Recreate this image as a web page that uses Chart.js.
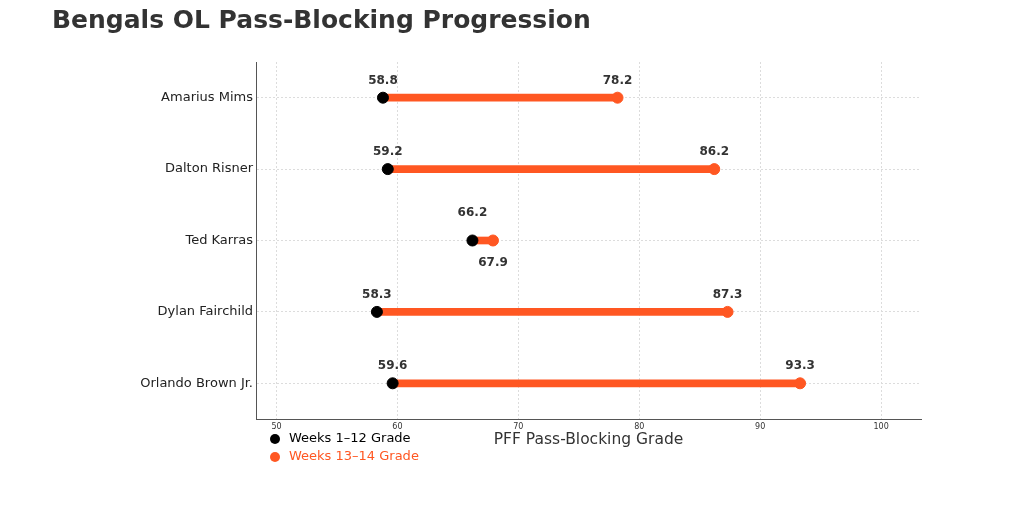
<!DOCTYPE html>
<html>
<head>
<meta charset="utf-8">
<script src="https://cdn.jsdelivr.net/npm/chart.js@4/dist/chart.umd.min.js"></script>
<style>
  html, body { margin: 0; padding: 0; background: #fff; }
  #wrap { width: 1024px; height: 512px; }
</style>
</head>
<body>
<div id="wrap"><canvas id="olChart" width="1024" height="512"></canvas></div>
<script>
// Data
const players = ['Amarius Mims', 'Dalton Risner', 'Ted Karras', 'Dylan Fairchild', 'Orlando Brown Jr.'];
const weeks1to12 = [58.8, 59.2, 66.2, 58.3, 59.6];
const weeks13to14 = [78.2, 86.2, 67.9, 87.3, 93.3];
const xTicks = [50, 60, 70, 80, 90, 100];

const ORANGE = '#FF5722';
const FONT = "'DejaVu Sans', sans-serif";

// Draw title, value labels and the legend by hand
const textPlugin = {
    id: 'textPlugin',
    afterDraw(chart) {
        const ctx = chart.ctx;
        const x = chart.scales.x;
        const y = chart.scales.y;
        ctx.save();

        // title
        ctx.fillStyle = '#333';
        ctx.font = 'bold 25px ' + FONT;
        ctx.textAlign = 'left';
        ctx.textBaseline = 'middle';
        ctx.fillText('Bengals OL Pass-Blocking Progression', 52, 21);

        // value labels
        ctx.font = 'bold 12px ' + FONT;
        ctx.textAlign = 'center';
        players.forEach((p, i) => {
            const py = y.getPixelForValue(i);
            const close = Math.abs(weeks13to14[i] - weeks1to12[i]) < 5;
            ctx.fillText(weeks1to12[i].toFixed(1), x.getPixelForValue(weeks1to12[i]), py - (close ? 28 : 17));
            ctx.fillText(weeks13to14[i].toFixed(1), x.getPixelForValue(weeks13to14[i]), py + (close ? 22 : -17));
        });

        // legend
        ctx.font = '13px ' + FONT;
        ctx.textAlign = 'left';
        const items = [['Weeks 1\u201312 Grade', '#000'], ['Weeks 13\u201314 Grade', ORANGE]];
        items.forEach((it, k) => {
            const ly = 439 + k * 18;
            ctx.fillStyle = it[1];
            ctx.beginPath();
            ctx.arc(275, ly, 5, 0, Math.PI * 2);
            ctx.fill();
            ctx.fillText(it[0], 289, ly);
        });

        // x axis title
        ctx.fillStyle = '#333';
        ctx.font = '15.5px ' + FONT;
        ctx.textAlign = 'center';
        ctx.fillText('PFF Pass-Blocking Grade', (chart.chartArea.left + chart.chartArea.right) / 2, 440);
        ctx.restore();
    }
};

const ctx = document.getElementById('olChart').getContext('2d');

new Chart(ctx, {
    type: 'bar',
    data: {
        labels: players,
        datasets: [
            {
                type: 'scatter',
                label: 'Weeks 13–14 Grade',
                data: players.map((p, i) => ({ x: weeks13to14[i], y: p })),
                backgroundColor: ORANGE,
                borderColor: ORANGE,
                pointRadius: 5.5,
                order: 1
            },
            {
                type: 'scatter',
                label: 'Weeks 1–12 Grade',
                data: players.map((p, i) => ({ x: weeks1to12[i], y: p })),
                backgroundColor: '#000',
                borderColor: '#000',
                pointRadius: 5.5,
                order: 0
            },
            {
                label: 'Change',
                data: players.map((p, i) => [weeks1to12[i], weeks13to14[i]]),
                backgroundColor: ORANGE,
                borderWidth: 0,
                borderSkipped: false,
                barThickness: 7,
                order: 2
            }
        ]
    },
    options: {
        indexAxis: 'y',
        responsive: false,
        animation: false,
        layout: {
            padding: { left: 0, right: 103, top: 62, bottom: 0 }
        },
        plugins: {
            legend: { display: false },
            tooltip: { enabled: false },
            title: { display: false }
        },
        scales: {
            x: {
                type: 'linear',
                min: 48.3,
                max: 103.3,
                afterBuildTicks: scale => {
                    scale.ticks = xTicks.map(v => ({ value: v }));
                },
                afterFit: scale => { scale.height = 93; },
                ticks: {
                    font: { family: FONT, size: 8 },
                    color: '#333',
                    padding: 3
                },
                grid: {
                    color: '#dcdcdc',
                    drawTicks: false
                },
                border: { color: '#555', width: 1, dash: [2, 2] }
            },
            y: {
                type: 'category',
                offset: true,
                afterFit: scale => { scale.width = 256; },
                ticks: {
                    font: { family: FONT, size: 13 },
                    color: '#222',
                    padding: 3
                },
                grid: {
                    offset: false,
                    color: '#dcdcdc',
                    drawTicks: false
                },
                border: { color: '#555', width: 1, dash: [2, 2] }
            }
        }
    },
    plugins: [textPlugin]
});
</script>
</body>
</html>
